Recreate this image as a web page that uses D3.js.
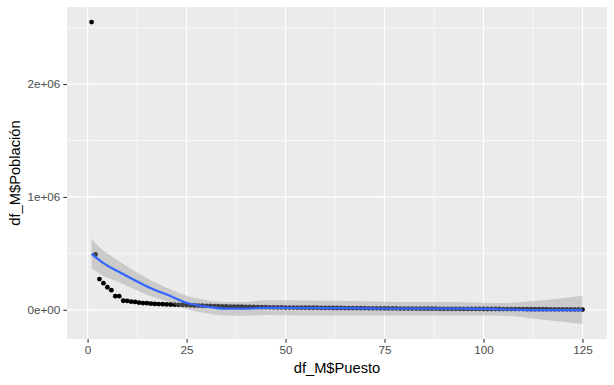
<!DOCTYPE html>
<html>
<head>
<meta charset="utf-8">
<script src="https://cdn.jsdelivr.net/npm/d3@7"></script>
<style>
  body { margin: 0; background: #fff; }
  svg { display: block; font-family: "Liberation Sans", Arial, sans-serif; }
</style>
</head>
<body>
<svg width="614" height="385"></svg>
<script>
const width = 614;
const height = 385;
const margin = { top: 7, right: 7, bottom: 46, left: 67 };

// df_M$Puesto vs df_M$Población (thousands)
const poblacion = [
  2549, 490, 272, 236, 200, 174, 121, 121, 80, 79,
  72, 70, 63, 60, 59, 54, 52, 51, 50, 48,
  47, 45, 44, 43, 42, 40, 38, 37, 36, 35,
  34, 33, 32, 31, 30, 29, 28, 28, 27, 26,
  25, 25, 24, 23, 23, 22, 22, 21, 21, 20,
  20, 20, 19, 19, 19, 18, 18, 18, 17, 17,
  17, 16, 16, 16, 15, 15, 14, 14, 14, 14,
  13, 13, 13, 13, 12, 12, 12, 12, 11, 11,
  11, 11, 11, 10, 10, 10, 10, 10, 9, 9,
  9, 9, 9, 8, 8, 8, 8, 8, 8, 7,
  7, 7, 7, 7, 6, 6, 6, 6, 6, 6,
  5, 5, 5, 5, 5, 5, 4, 4, 4, 4,
  4, 3, 3, 3, 2
];
const puesto = poblacion.map((d, i) => i + 1);

// loess smooth (millions)
const smoothX  = [1, 4, 8, 12, 16, 20, 25, 30, 35, 40, 45, 55, 65, 75, 85, 95, 105, 112, 118, 125];
const smoothY  = [0.496, 0.413, 0.335, 0.26, 0.19, 0.135, 0.062, 0.028, 0.010, 0.010, 0.017, 0.016, 0.014, 0.011, 0.010, 0.010, 0.004, -0.002, -0.003, -0.003];
const smoothHi = [0.628, 0.525, 0.43, 0.34, 0.262, 0.195, 0.124, 0.085, 0.07, 0.07, 0.085, 0.082, 0.078, 0.072, 0.07, 0.068, 0.06, 0.075, 0.095, 0.124];
const smoothLo = [0.369, 0.30, 0.245, 0.18, 0.12, 0.075, 0.004, -0.03, -0.05, -0.052, -0.045, -0.05, -0.05, -0.05, -0.05, -0.05, -0.052, -0.075, -0.1, -0.125];

const xTicks = [0, 25, 50, 75, 100, 125];
const yTicks = [0, 1e6, 2e6];
const yTickLabels = ['0e+00', '1e+06', '2e+06'];

const points = puesto.map((p, i) => ({ x: p, y: poblacion[i] * 1000 }));
const smooth = smoothX.map((x, i) => ({ x: x, y: smoothY[i] * 1e6, lo: smoothLo[i] * 1e6, hi: smoothHi[i] * 1e6 }));

const xExt = d3.extent(puesto);
const xPad = (xExt[1] - xExt[0]) * 0.05;
const yMin = d3.min(smooth, d => d.lo);
const yMax = d3.max(points, d => d.y);
const yPad = (yMax - yMin) * 0.05;

const xScale = d3.scaleLinear()
    .domain([xExt[0] - xPad, xExt[1] + xPad])
    .range([margin.left, width - margin.right]);
const yScale = d3.scaleLinear()
    .domain([yMin - yPad, yMax + yPad])
    .range([height - margin.bottom, margin.top]);

const svg = d3.select('svg');

svg.append('rect')
    .attr('x', margin.left)
    .attr('y', margin.top)
    .attr('width', width - margin.left - margin.right)
    .attr('height', height - margin.top - margin.bottom)
    .attr('fill', '#ebebeb');

const grid = svg.append('g');
const xMinor = [12.5, 37.5, 62.5, 87.5, 112.5];
const yMinor = [5e5, 1.5e6, 2.5e6];

grid.selectAll('.xminor').data(xMinor).enter()
    .append('line')
        .attr('x1', d => xScale(d)).attr('x2', d => xScale(d))
        .attr('y1', margin.top).attr('y2', height - margin.bottom)
        .attr('stroke', '#fff').attr('stroke-width', 0.6);
grid.selectAll('.yminor').data(yMinor).enter()
    .append('line')
        .attr('y1', d => yScale(d)).attr('y2', d => yScale(d))
        .attr('x1', margin.left).attr('x2', width - margin.right)
        .attr('stroke', '#fff').attr('stroke-width', 0.6);
grid.selectAll('.xmajor').data(xTicks).enter()
    .append('line')
        .attr('x1', d => xScale(d)).attr('x2', d => xScale(d))
        .attr('y1', margin.top).attr('y2', height - margin.bottom)
        .attr('stroke', '#fff').attr('stroke-width', 1.2);
grid.selectAll('.ymajor').data(yTicks).enter()
    .append('line')
        .attr('y1', d => yScale(d)).attr('y2', d => yScale(d))
        .attr('x1', margin.left).attr('x2', width - margin.right)
        .attr('stroke', '#fff').attr('stroke-width', 1.2);

// points
svg.append('g')
    .selectAll('circle')
    .data(points)
    .enter()
    .append('circle')
        .attr('cx', d => xScale(d.x))
        .attr('cy', d => yScale(d.y))
        .attr('r', 2.4)
        .attr('fill', '#000');

// confidence band
svg.append('path')
    .datum(smooth)
    .attr('d', d3.area()
        .x(d => xScale(d.x))
        .y0(d => yScale(d.lo))
        .y1(d => yScale(d.hi))
        .curve(d3.curveMonotoneX))
    .attr('fill', '#999999')
    .attr('fill-opacity', 0.4);

svg.append('path')
    .datum(smooth)
    .attr('d', d3.line()
        .x(d => xScale(d.x))
        .y(d => yScale(d.y))
        .curve(d3.curveMonotoneX))
    .attr('fill', 'none')
    .attr('stroke', '#3366ff')
    .attr('stroke-width', 2.2);

// axes
const xAxis = d3.axisBottom(xScale)
    .tickValues(xTicks)
    .tickSize(3.7)
    .tickSizeOuter(0)
    .tickPadding(3);
const yAxis = d3.axisLeft(yScale)
    .tickValues(yTicks)
    .tickFormat((d, i) => yTickLabels[i])
    .tickSize(3.7)
    .tickSizeOuter(0)
    .tickPadding(3);

const gx = svg.append('g')
    .attr('transform', `translate(0, ${height - margin.bottom})`)
    .call(xAxis);
const gy = svg.append('g')
    .attr('transform', `translate(${margin.left}, 0)`)
    .call(yAxis);

[gx, gy].forEach(g => {
    g.select('.domain').remove();
    g.selectAll('.tick line').attr('stroke', '#333').attr('stroke-width', 1.1);
    g.selectAll('.tick text')
        .attr('fill', '#4d4d4d')
        .style('font-size', '11.7px')
        .style('font-family', '"Liberation Sans", Arial, sans-serif');
});

svg.append('text')
    .attr('x', (margin.left + width - margin.right) / 2)
    .attr('y', 373)
    .style('text-anchor', 'middle')
    .style('font-size', '14.7px')
    .attr('fill', '#000')
    .text('df_M$Puesto');

svg.append('text')
    .attr('transform', `translate(20, ${(margin.top + height - margin.bottom) / 2}) rotate(-90)`)
    .style('text-anchor', 'middle')
    .style('font-size', '14.7px')
    .attr('fill', '#000')
    .text('df_M$Población');
</script>
</body>
</html>
